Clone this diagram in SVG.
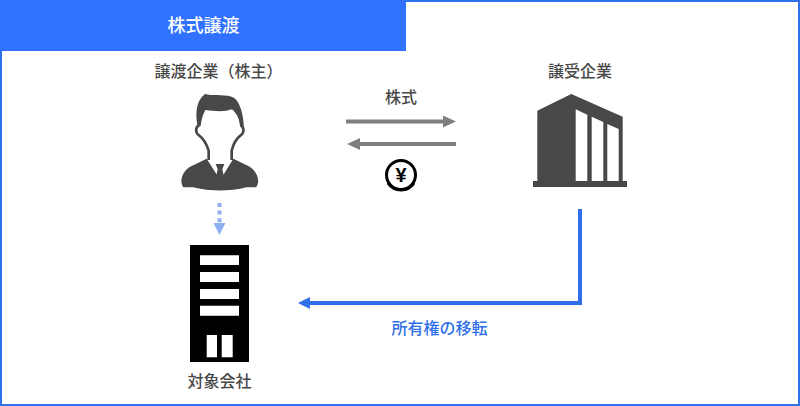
<svg xmlns="http://www.w3.org/2000/svg" width="800" height="406" viewBox="0 0 800 406">
<style>
text{font-family:"Noto Sans CJK JP","Noto Sans",sans-serif;font-size:16px;text-anchor:middle;fill:#484848;font-weight:500}
.dark{fill:#484848}
.k{fill:#000}
.w{fill:#fff}
</style>
<defs>
<marker id="g" markerUnits="userSpaceOnUse" markerWidth="13" markerHeight="12" refX="1" refY="6" orient="auto"><path d="M0 0L13 6L0 12Z" fill="#7f7f7f"/></marker>
<marker id="b" markerUnits="userSpaceOnUse" markerWidth="12" markerHeight="12" refX="1" refY="6" orient="auto"><path d="M0 0L12 6L0 12Z" fill="#2f6fe8"/></marker>
<marker id="l" markerUnits="userSpaceOnUse" markerWidth="12" markerHeight="12" refX="1" refY="6" orient="auto"><path d="M0 0L12 6L0 12Z" fill="#8fb0f5"/></marker>
</defs>
<rect width="800" height="406" fill="#fff"/>
<rect x="1" y="1" width="798" height="404" fill="none" stroke="#3072ee" stroke-width="2"/>
<g id="header"><rect width="406" height="51" fill="#3072ff"/><text x="203.500" y="32" style="fill:#fff;font-size:18px">株式譲渡</text></g>
<g id="connectors">
<path d="M346 121.500H444" fill="none" stroke="#7f7f7f" stroke-width="4" marker-end="url(#g)"/>
<path d="M456 144H359" fill="none" stroke="#7f7f7f" stroke-width="4" marker-end="url(#g)"/>
<path d="M219.500 203V224" fill="none" stroke="#8fb0f5" stroke-width="4" stroke-dasharray="4 3.600" marker-end="url(#l)"/>
<path d="M580 209V303H309" fill="none" stroke="#2f6fe8" stroke-width="4" marker-end="url(#b)"/>
</g>
<g id="seller"><text x="218.500" y="77">譲渡企業（株主）</text>
<g transform="translate(150 80) scale(.3333)">
<path class="dark" d="M142 135C136 100 138 62 165 42C185 48 215 42 245 50C262 55 280 85 282 145L270 138C268 118 262 102 246 88C225 96 195 94 166 90C158 105 154 120 152 138Z"/>
<path fill="none" stroke="#484848" stroke-width="8" d="M148 135C134 142 137 160 147 166C162 178 170 192 176 212L176 240M272 135C284 142 282 160 272 166C258 176 250 192 245 212L245 240"/>
<path class="dark" d="M170 236L203 288V322H100C88 305 95 272 125 258ZM250 236L218 288V322H318C332 305 322 272 295 258Z"/>
<path class="dark" d="M95 305C140 340 280 340 325 305L322 295L96 295Z"/>
<path class="dark" d="M197 252H223L217 268L224 300H196L203 268Z"/>
</g></g>
<g id="buyer"><text x="580" y="77">譲受企業</text>
<path class="dark" d="M537.300 110.700L571.300 94L622.700 116.700V181H537.300Z"/>
<rect class="dark" x="533" y="181" width="94" height="6"/>
<path class="w" d="M575.700 109.300L587.300 114.700V181H575.700ZM591.700 116.700L603.300 122V181H591.700ZM607.300 124L618.700 129V181H607.300Z"/>
</g>
<g id="stock-label"><text x="401" y="103">株式</text></g>
<g id="coin"><circle cx="401" cy="175" r="14.500" fill="#fff" stroke="#000" stroke-width="3"/>
<path d="M388 183A15.500 15.500 0 0 0 414 183" fill="none" stroke="#000" stroke-width="3"/>
<text x="401" y="182" style="fill:#000;font-size:20px;font-weight:700;font-family:'Liberation Sans',sans-serif">¥</text></g>
<g id="target">
<rect class="k" x="190" y="245" width="59" height="117"/>
<path class="w" d="M200 255.300H239V265H200ZM200 272H239V282H200ZM200 289H239V299H200ZM200 305.700H239V315.700H200ZM206.700 335H217V357.300H206.700ZM221.700 335H232.700V357.300H221.700Z"/>
<text x="219.500" y="387">対象会社</text></g>
<g id="transfer-label"><text x="439.500" y="334" style="fill:#2f6fe8">所有権の移転</text></g>
</svg>
